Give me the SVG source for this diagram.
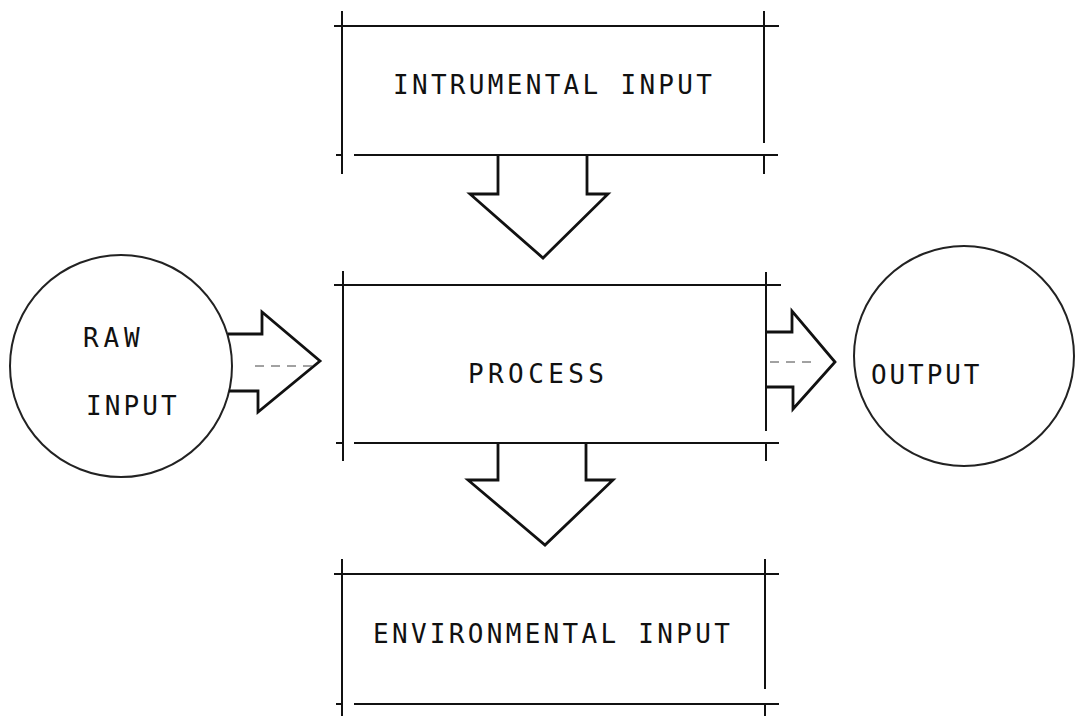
<svg xmlns="http://www.w3.org/2000/svg" width="1075" height="716" viewBox="0 0 1075 716">
<style>
.ln{stroke:#111;stroke-width:2;fill:none;stroke-linecap:square}
.ar{stroke:#111;stroke-width:2.8;fill:none;stroke-linejoin:miter}
.cl{stroke:#222;stroke-width:2;fill:none}
.dsh{stroke:#444;stroke-width:1;fill:none;stroke-dasharray:9 7}
.t{font-family:"DejaVu Sans Mono","Liberation Mono",monospace;font-size:26px;fill:#111;letter-spacing:3.3px}
</style>
<rect width="1075" height="716" fill="#fff"/>
<g id="instrumental-input">
<path class="ln" d="M335 26H778M342 12V173M764 12V142M764 156V173M337 155H342M355 155H777"/>
<text class="t" x="393" y="94">INTRUMENTAL INPUT</text>
</g>
<g id="process">
<path class="ln" d="M335 285H780M343 272V460M766 273V430M766 443V460M337 443H342M355 443H778"/>
<text class="t" x="468" y="383" style="letter-spacing:4.4px">PROCESS</text>
</g>
<g id="environmental-input">
<path class="ln" d="M335 574H778M342 560V716M765 560V688M765 705V716M337 704H342M355 704H778"/>
<text class="t" x="373" y="643">ENVIRONMENTAL INPUT</text>
</g>
<g id="raw-input">
<circle class="cl" cx="121" cy="366" r="111"/>
<text class="t" x="83" y="347" style="letter-spacing:4.8px">RAW</text>
<text class="t" x="86" y="415" style="letter-spacing:3.1px">INPUT</text>
</g>
<g id="output">
<circle class="cl" cx="964" cy="356" r="110"/>
<text class="t" x="871" y="384" style="letter-spacing:2.9px">OUTPUT</text>
</g>
<g id="connectors">
<polyline class="ar" points="498,155 498,194 470,194 543,258 608,194 587,194 587,155"/>
<polyline class="ar" points="498,443 498,480 468,480 545,545 613,480 586,480 586,443"/>
<polyline class="ar" points="228,334 262,334 262,312 320,361 258,412 258,391 229,391"/>
<line class="dsh" x1="255" y1="366" x2="312" y2="366"/>
<polyline class="ar" points="766,332 792,332 792,311 835,362 793,409 793,387 766,387"/>
<line class="dsh" x1="770" y1="362" x2="812" y2="362"/>
</g>
</svg>
